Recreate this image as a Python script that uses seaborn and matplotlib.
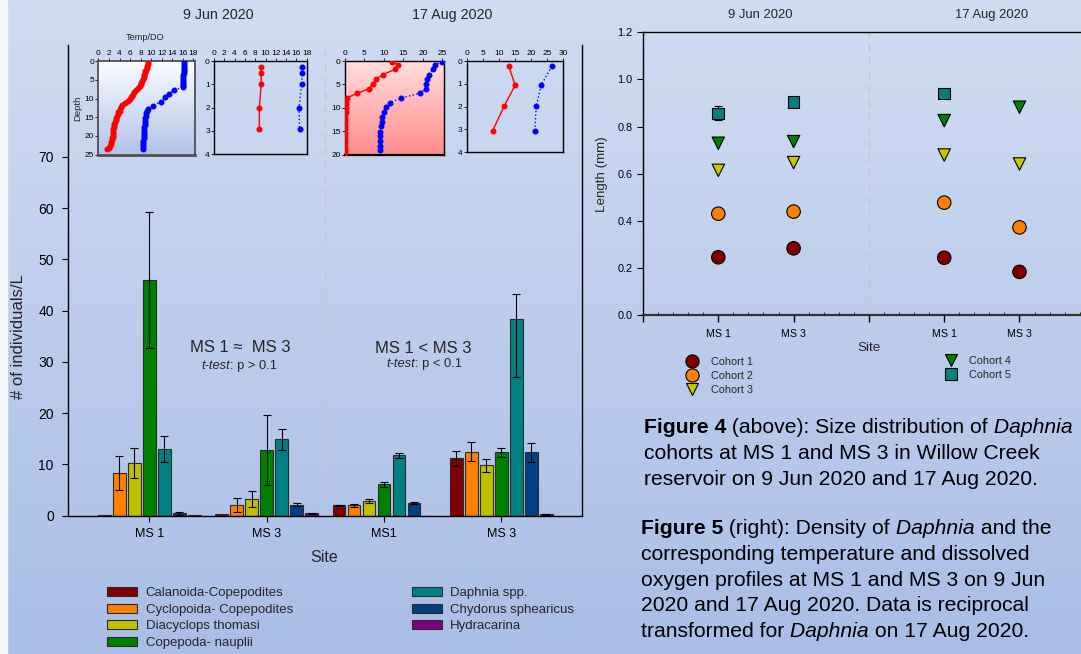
import numpy as np
import pandas as pd
import matplotlib
matplotlib.use("Agg")
import matplotlib.pyplot as plt
from matplotlib.patches import Patch, Rectangle
from matplotlib.lines import Line2D
from matplotlib.ticker import MultipleLocator, FormatStrFormatter
from matplotlib.offsetbox import TextArea, HPacker, VPacker, AnchoredOffsetbox
import seaborn as sns

sns.set_style("ticks")
plt.rcParams['font.family'] = ['Liberation Sans', 'DejaVu Sans']

# Densidade (Figure 5)
taxa = ['Calanoida-Copepodites', 'Cyclopoida- Copepodites', 'Diacyclops thomasi',
        'Copepoda- nauplii', 'Daphnia spp.', 'Chydorus sphearicus', 'Hydracarina']
taxa_colors = ['#800000', '#ff8000', '#c0c000', '#008000', '#008080', '#004080', '#800080']
sites = ['Jun MS 1', 'Jun MS 3', 'Aug MS1', 'Aug MS 3']
site_labels = ['MS 1', 'MS 3', 'MS1', 'MS 3']

dens_jun_ms1 = [0.15, 8.4, 10.3, 46.0, 13.1, 0.45, 0.05]
dens_jun_ms3 = [0.25, 2.1, 3.25, 12.9, 14.9, 2.1, 0.45]
dens_aug_ms1 = [2.0, 2.0, 2.85, 6.1, 11.75, 2.5, 0.0]
dens_aug_ms3 = [11.2, 12.5, 9.8, 12.4, 38.3, 12.35, 0.25]

lo_jun_ms1 = [0, 3.3, 3.0, 13.2, 2.6, 0.3, 0]
hi_jun_ms1 = [0, 3.3, 3.0, 13.2, 2.5, 0.3, 0]
lo_jun_ms3 = [0, 1.4, 1.5, 6.9, 2.1, 0.25, 0.05]
hi_jun_ms3 = [0, 1.4, 1.5, 6.8, 2.1, 0.3, 0.05]
lo_aug_ms1 = [0.1, 0.35, 0.4, 0.5, 0.5, 0.2, 0]
hi_aug_ms1 = [0.1, 0.35, 0.4, 0.5, 0.5, 0.2, 0]
lo_aug_ms3 = [1.5, 1.9, 1.3, 0.9, 11.2, 1.8, 0.05]
hi_aug_ms3 = [1.5, 1.9, 1.3, 0.9, 5.0, 1.8, 0.05]

# Perfis de temperatura / OD
depth_t_j1 = [0.2, 0.7, 1.2, 1.7, 2.2, 2.7, 3.2, 3.7, 4.2, 4.7, 5.2, 5.7, 6.2, 6.7, 7.2, 7.7,
              8.2, 8.7, 9.2, 9.7, 10.2, 10.7, 11.2, 11.7, 12.2, 12.7, 13.2, 13.7, 14.2, 14.7,
              15.2, 15.7, 16.2, 16.7, 17.2, 17.7, 18.2, 18.7, 19.2, 19.7, 20.2, 20.7, 21.2,
              21.7, 22.2, 22.7, 23.2, 23.6]
temp_j1 = [9.5, 9.4, 9.25, 9.15, 9.0, 8.9, 8.8, 8.7, 8.6, 8.45, 8.3, 8.15, 8.0, 7.8, 7.6, 7.2,
           6.8, 6.5, 6.3, 6.1, 5.9, 5.6, 5.1, 4.5, 4.2, 4.1, 4.0, 3.8, 3.7, 3.5,
           3.4, 3.25, 3.1, 3.0, 2.95, 2.9, 2.85, 2.8, 2.8, 2.75, 2.7, 2.6, 2.55,
           2.45, 2.4, 2.25, 2.0, 1.7]
depth_do_j1 = [0.2, 0.7, 1.2, 1.7, 2.2, 2.7, 3.2, 3.7, 4.2, 4.7, 5.2, 5.7, 6.2, 6.7, 7.0,
               7.7, 8.7, 9.7, 10.8, 12.0, 12.8, 13.3, 13.9, 14.6, 15.3, 16.0, 16.6, 17.1,
               17.7, 18.3, 18.9, 19.5, 20.1, 20.7, 21.3, 21.9, 22.5, 23.0, 23.5]
do_j1 = [16.25, 16.2, 16.2, 16.2, 16.2, 16.2, 16.2, 16.15, 16.15, 16.15, 16.1, 16.1, 16.1, 16.1, 16.05,
         14.4, 13.4, 12.7, 11.9, 10.3, 9.5, 9.3, 9.1, 9.0, 8.9, 8.85, 8.8, 8.75,
         8.7, 8.7, 8.65, 8.6, 8.6, 8.6, 8.55, 8.55, 8.5, 8.5, 8.45]

depth_j3 = [0.27, 0.53, 1.0, 2.0, 2.9]
temp_j3 = [9.15, 9.15, 9.15, 8.8, 8.8]
do_j3 = [17.1, 17.1, 17.0, 16.5, 16.6]

depth_t_a1 = [0.14, 0.86, 1.8, 2.9, 3.9, 4.9, 5.9, 6.9, 7.9, 8.6, 9.3, 10.1, 10.8, 11.6, 12.3,
              13.1, 13.8, 14.6, 15.3, 16.1, 16.8, 17.6, 18.3, 19.1, 19.6]
temp_a1 = [12.1, 13.7, 12.8, 9.7, 8.0, 7.1, 6.2, 3.2, 0.4, 0.25, 0.2, 0.15, 0.15, 0.1, 0.1,
           0.1, 0.1, 0.1, 0.1, 0.1, 0.1, 0.1, 0.1, 0.1, 0.1]
depth_do_a1 = [0.14, 0.86, 1.8, 2.9, 3.9, 4.9, 5.9, 6.9, 7.9, 8.9, 9.9, 11.0, 12.0, 13.0, 14.0,
               15.1, 16.0, 17.0, 18.1, 19.1]
do_a1 = [25.0, 23.0, 22.5, 21.5, 21.1, 20.9, 20.7, 19.3, 14.4, 11.6, 10.5, 10.0, 9.6, 9.4, 9.3,
         9.1, 9.1, 9.0, 9.0, 8.9]

depth_a3 = [0.23, 1.06, 1.97, 3.05]
temp_a3 = [13.1, 15.1, 11.7, 8.1]
do_a3 = [26.5, 23.2, 21.7, 21.2]

# Tamanho das coortes (Figure 4)
cohorts = ['Cohort 1', 'Cohort 2', 'Cohort 3', 'Cohort 4', 'Cohort 5']
cohort_colors = ['#800000', '#ff8000', '#c8c800', '#008000', '#008080']
cohort_markers = ['o', 'o', 'v', 'v', 's']
cohort1 = [0.245, 0.283, 0.243, 0.183]
cohort2 = [0.430, 0.439, 0.477, 0.372]
cohort3 = [0.614, 0.647, 0.679, 0.641]
cohort4 = [0.729, 0.736, 0.825, 0.882]
cohort5 = [0.856, 0.903, 0.941, np.nan]
cohort5_err = [0.03, 0.0, 0.0, np.nan]

W, H = 1081, 654
fig = plt.figure(figsize=(W / 100, H / 100), dpi=100)


def px_axes(left, top, right, bottom, **kw):
    return fig.add_axes([left / W, 1 - bottom / H, (right - left) / W, (bottom - top) / H], **kw)


def vgrad(ax, top_color, bottom_color):
    c0 = np.array(matplotlib.colors.to_rgb(top_color))
    c1 = np.array(matplotlib.colors.to_rgb(bottom_color))
    t = np.linspace(0, 1, 256)[:, None, None]
    ax.imshow(c0 + (c1 - c0) * t, extent=[0, 1, 0, 1], transform=ax.transAxes,
              aspect='auto', zorder=0, interpolation='bilinear')


# fundo
bg = fig.add_axes([0, 0, 1, 1], zorder=-10)
vgrad(bg, '#d0dcf1', '#a9bee6')
bg.add_patch(Rectangle((0, 0), 7 / W, 1, transform=bg.transAxes, color='#f4f7fc', zorder=1))
bg.set_xlim(0, 1)
bg.set_ylim(0, 1)
bg.axis('off')

# ---- grafico de barras ----
df_bars = pd.DataFrame({
    'site': np.repeat(sites, len(taxa)),
    'taxon': taxa * len(sites),
    'density': np.concatenate([dens_jun_ms1, dens_jun_ms3, dens_aug_ms1, dens_aug_ms3]),
})
err_lo = np.concatenate([lo_jun_ms1, lo_jun_ms3, lo_aug_ms1, lo_aug_ms3])
err_hi = np.concatenate([hi_jun_ms1, hi_jun_ms3, hi_aug_ms1, hi_aug_ms3])

ax = px_axes(67.7, 45, 581.7, 515.7)
ax.patch.set_alpha(0)
sns.barplot(data=df_bars, x='site', y='density', hue='taxon', order=sites, hue_order=taxa,
            palette=taxa_colors, saturation=1, width=0.896, gap=0.15, errorbar=None,
            edgecolor='#2b2b2b', linewidth=0.8, legend=False, ax=ax)

bars = sorted([p for p in ax.patches if isinstance(p, Rectangle)], key=lambda p: p.get_x())
for k, bar in enumerate(bars):
    if err_lo[k] == 0 and err_hi[k] == 0:
        continue
    ax.errorbar(bar.get_x() + bar.get_width() / 2, bar.get_height(),
                yerr=[[err_lo[k]], [err_hi[k]]], fmt='none', ecolor='black',
                elinewidth=0.8, capsize=2.6, capthick=0.8, zorder=4)

ax.axvline(1.5, color='#c6c6c6', lw=1, ls=(0, (6, 4)), zorder=0)
ax.set_xlim(-0.696, 3.686)
ax.set_ylim(0, 91.8)
ax.set_yticks(range(0, 80, 10))
ax.set_xticks(range(len(sites)))
ax.set_xticklabels(site_labels)
ax.set_xlabel('')
ax.set_ylabel('')
ax.tick_params(axis='y', labelsize=10, length=4, width=0.8, pad=6, colors='black')
ax.tick_params(axis='x', labelsize=9, length=4, width=0.8, pad=5, colors='black')
ax.spines['top'].set_visible(False)
for s in ['left', 'right', 'bottom']:
    ax.spines[s].set_color('black')
    ax.spines[s].set_linewidth(1)

ax.text(0.773, 32.9, 'MS 1 \u2248  MS 3', fontsize=12, ha='center', va='center')
ax.text(0.688, 29.2, 't-test', fontsize=9.3, style='italic', ha='right', va='center')
ax.text(0.688, 29.2, ': p > 0.1', fontsize=9.3, ha='left', va='center')
ax.text(2.332, 32.7, 'MS 1 < MS 3', fontsize=12, ha='center', va='center')
ax.text(2.265, 29.6, 't-test', fontsize=9.3, style='italic', ha='right', va='center')
ax.text(2.265, 29.6, ': p < 0.1', fontsize=9.3, ha='left', va='center')

fig.text(218 / W, 1 - 15 / H, '9 Jun 2020', fontsize=10.3, ha='center', va='center')
fig.text(452 / W, 1 - 15 / H, '17 Aug 2020', fontsize=10.3, ha='center', va='center')
fig.text(19 / W, 1 - 337 / H, '# of individuals/L', fontsize=12, rotation=90, ha='center', va='center')
fig.text(324 / W, 1 - 557 / H, 'Site', fontsize=11.5, ha='center', va='center')

handles = [Patch(facecolor=c, edgecolor='#2b2b2b', linewidth=0.8) for c in taxa_colors]
fig.legend(handles, taxa, loc='upper left', bbox_to_anchor=(107.3 / W, 1 - 587 / H), ncol=2,
           frameon=False, fontsize=9.5, handlelength=2.27, handleheight=0.68, handletextpad=0.64,
           labelspacing=0.34, columnspacing=9.0, borderpad=0, borderaxespad=0)


# ---- perfis (insets) ----
def profile(ax, t_depth, temp, do_depth, do, xmax, xticks, ymax, yticks):
    ax.plot(temp, t_depth, color='red', lw=1, marker='o', ms=3.3, mec='red', zorder=3)
    ax.plot(do, do_depth, color='blue', lw=1, ls=':', marker='o', ms=3.3, mec='blue', zorder=3)
    ax.set_xlim(0, xmax)
    ax.set_ylim(ymax, 0)
    ax.xaxis.tick_top()
    ax.set_xticks(xticks)
    ax.set_yticks(yticks)
    ax.tick_params(labelsize=6, length=2, width=0.6, pad=1, colors='black')
    ax.patch.set_alpha(0)
    for s in ax.spines.values():
        s.set_color('black')
        s.set_linewidth(1)


ins1 = px_axes(98.5, 61.3, 194.5, 154.5)
vgrad(ins1, '#fbfcff', '#b2c4e8')
profile(ins1, depth_t_j1, temp_j1, depth_do_j1, do_j1, 18.25, range(0, 19, 2), 25, range(0, 26, 5))
for s in ins1.spines.values():
    s.set_color('#505050')
    s.set_linewidth(1.3)
ins1.spines['bottom'].set_linewidth(2)
ins1.set_ylabel('Depth', fontsize=6.8, labelpad=2)
fig.text(145 / W, 1 - 38 / H, 'Temp/DO', fontsize=6.6, ha='center', va='center')

ins2 = px_axes(214, 61, 307.3, 154.3)
profile(ins2, depth_j3, temp_j3, depth_j3, do_j3, 18.1, range(0, 19, 2), 4, range(0, 5))

ins3 = px_axes(345, 61, 444, 155)
vgrad(ins3, '#ffdede', '#ff8a8a')
profile(ins3, depth_t_a1, temp_a1, depth_do_a1, do_a1, 25.4, range(0, 26, 5), 20.1, range(0, 21, 5))
ins3.spines['bottom'].set_linewidth(1.6)

ins4 = px_axes(466.7, 61, 563, 152.3)
profile(ins4, depth_a3, temp_a3, depth_a3, do_a3, 30, range(0, 31, 5), 4, range(0, 5))

# ---- Figure 4: comprimento das coortes ----
site_pos = {'Jun MS 1': 1, 'Jun MS 3': 2, 'Aug MS1': 4, 'Aug MS 3': 5}
df_len = pd.DataFrame({
    'site': sites * len(cohorts),
    'cohort': np.repeat(cohorts, len(sites)),
    'length': np.concatenate([cohort1, cohort2, cohort3, cohort4, cohort5]),
}).dropna()
df_len['pos'] = df_len['site'].map(site_pos)

ax2 = px_axes(643, 32.3, 1094.8, 315)
ax2.patch.set_alpha(0)
ax2.axvline(3, color='#c6c6c6', lw=1, ls=(0, (6, 4)), zorder=1)
for site, val, err in zip(sites, cohort5, cohort5_err):
    if not np.isnan(val) and err > 0:
        ax2.errorbar(site_pos[site], val, yerr=err, fmt='none', ecolor='black',
                     elinewidth=0.8, capsize=3, capthick=0.8, zorder=2)
sns.scatterplot(data=df_len, x='pos', y='length', hue='cohort', style='cohort', size='cohort',
                hue_order=cohorts, style_order=cohorts, size_order=cohorts,
                palette=dict(zip(cohorts, cohort_colors)),
                markers=dict(zip(cohorts, cohort_markers)),
                sizes=dict(zip(cohorts, [94, 94, 80, 80, 70])),
                edgecolor='black', linewidth=0.8, legend=False, zorder=3, ax=ax2)
ax2.set_xlim(0, 6)
ax2.set_ylim(0, 1.2)
ax2.set_xticks(range(7))
ax2.set_xticklabels(['', 'MS 1', 'MS 3', '', 'MS 1', 'MS 3', ''])
ax2.xaxis.set_minor_locator(MultipleLocator(0.2))
ax2.set_yticks(np.arange(0, 1.21, 0.2))
ax2.yaxis.set_major_formatter(FormatStrFormatter('%.1f'))
ax2.tick_params(axis='x', which='major', direction='out', length=5, width=1, labelsize=7.7, pad=5, colors='black')
ax2.tick_params(axis='x', which='minor', direction='in', length=2.5, width=0.8, colors='#333333')
ax2.tick_params(axis='y', direction='out', length=4, width=0.8, labelsize=7.8, colors='black')
ax2.set_xlabel('')
ax2.set_ylabel('')
ax2.spines['right'].set_visible(False)
ax2.spines['left'].set_color('black')
ax2.spines['top'].set_color('black')
ax2.spines['left'].set_linewidth(1)
ax2.spines['top'].set_linewidth(1)
ax2.spines['bottom'].set_color('#333333')
ax2.spines['bottom'].set_linewidth(1.6)

fig.text(760 / W, 1 - 15 / H, '9 Jun 2020', fontsize=9.4, ha='center', va='center')
fig.text(992 / W, 1 - 15 / H, '17 Aug 2020', fontsize=9.4, ha='center', va='center')
fig.text(602 / W, 1 - 174 / H, 'Length (mm)', fontsize=9.6, rotation=90, ha='center', va='center')
fig.text(869 / W, 1 - 348 / H, 'Site', fontsize=9.7, ha='center', va='center')

mk = [Line2D([], [], ls='none', marker=m, markersize=9.5 if m == 'o' else 9, markerfacecolor=c,
             markeredgecolor='black', markeredgewidth=0.8)
      for m, c in zip(cohort_markers, cohort_colors)]
common = dict(frameon=False, fontsize=7.8, handlelength=1.5, labelspacing=0.37,
              borderpad=0, borderaxespad=0)
fig.legend(mk[:3], cohorts[:3], loc='upper left', bbox_to_anchor=(684 / W, 1 - 357 / H),
           handletextpad=1.0, **common)
fig.legend(mk[3:], cohorts[3:], loc='upper left', bbox_to_anchor=(942.6 / W, 1 - 356 / H),
           handletextpad=0.96, **common)


# ---- legendas das figuras ----
def caption(lines, left, top):
    rows = []
    for pieces in lines:
        boxes = []
        for txt, kind in pieces:
            props = dict(fontsize=15.2, color='black')
            if kind == 'b':
                props['fontweight'] = 'bold'
            if kind == 'i':
                props['fontstyle'] = 'italic'
            boxes.append(TextArea(txt, textprops=props))
        rows.append(HPacker(children=boxes, align='baseline', pad=0, sep=0))
    box = VPacker(children=rows, align='left', pad=0, sep=4.9)
    fig.add_artist(AnchoredOffsetbox(loc='upper left', child=box, pad=0, borderpad=0, frameon=False,
                                     bbox_to_anchor=(left / W, 1 - top / H),
                                     bbox_transform=fig.transFigure))


caption([
    [('Figure 4', 'b'), (' (above): Size distribution of', 'n'), (' Daphnia', 'i')],
    [('cohorts at MS 1 and MS 3 in Willow Creek', 'n')],
    [('reservoir on 9 Jun 2020 and 17 Aug 2020.', 'n')],
], 644, 418)
caption([
    [('Figure 5', 'b'), (' (right): Density of', 'n'), (' Daphnia', 'i'), (' and the', 'n')],
    [('corresponding temperature and dissolved', 'n')],
    [('oxygen profiles at MS 1 and MS 3 on 9 Jun', 'n')],
    [('2020 and 17 Aug 2020. Data is reciprocal', 'n')],
    [('transformed for', 'n'), (' Daphnia', 'i'), (' on 17 Aug 2020.', 'n')],
], 641, 519)

fig.savefig('out.png', dpi=100)
